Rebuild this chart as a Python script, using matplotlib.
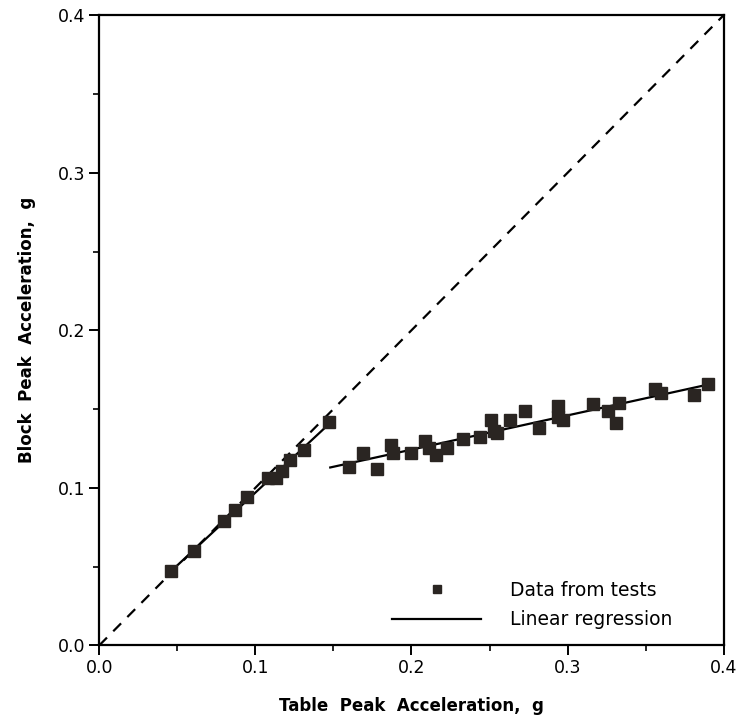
import numpy as np
import matplotlib
matplotlib.use("Agg")
import matplotlib.pyplot as plt
from matplotlib.ticker import MultipleLocator

# test data (g)
table_low = [0.046, 0.061, 0.080, 0.087, 0.095, 0.108, 0.113, 0.117, 0.122, 0.131, 0.147]
block_low = [0.047, 0.060, 0.079, 0.086, 0.094, 0.106, 0.106, 0.111, 0.118, 0.124, 0.142]

table_high = [0.160, 0.169, 0.178, 0.187, 0.188, 0.200, 0.209, 0.211, 0.216, 0.223,
              0.233, 0.244, 0.251, 0.253, 0.255, 0.263, 0.273, 0.282, 0.294, 0.294,
              0.297, 0.316, 0.326, 0.333, 0.331, 0.356, 0.360, 0.381, 0.390]
block_high = [0.113, 0.122, 0.112, 0.127, 0.122, 0.122, 0.130, 0.125, 0.121, 0.125,
              0.131, 0.132, 0.143, 0.136, 0.135, 0.143, 0.149, 0.138, 0.152, 0.145,
              0.143, 0.153, 0.149, 0.154, 0.141, 0.163, 0.160, 0.159, 0.166]

low_range = [0.045, 0.149]
high_range = [0.148, 0.390]

fig = plt.figure(figsize=(7.4, 7.22), dpi=100)
ax = fig.add_axes([0.134, 0.106, 0.844, 0.873])

# 1:1 line
ax.plot([0, 0.4], [0, 0.4], color="black", linestyle=(0, (5, 4)), linewidth=1.6)

# regression lines for both groups
for tx, by, rng in [(table_low, block_low, low_range), (table_high, block_high, high_range)]:
    coef = np.polyfit(tx, by, 1)
    xx = np.array(rng)
    ax.plot(xx, np.polyval(coef, xx), color="black", linewidth=1.6,
            label="Linear regression" if rng is high_range else None)

ax.plot(table_low + table_high, block_low + block_high, linestyle="none",
        marker="s", markersize=8.5, color="#2a2522", label="Data from tests")

ax.set_xlim(0, 0.4)
ax.set_ylim(0, 0.4)
ax.xaxis.set_major_locator(MultipleLocator(0.1))
ax.xaxis.set_minor_locator(MultipleLocator(0.05))
ax.yaxis.set_major_locator(MultipleLocator(0.1))
ax.yaxis.set_minor_locator(MultipleLocator(0.05))
ax.xaxis.set_major_formatter(matplotlib.ticker.FormatStrFormatter("%.1f"))
ax.yaxis.set_major_formatter(matplotlib.ticker.FormatStrFormatter("%.1f"))
ax.tick_params(which="major", direction="out", length=7, width=1.4, labelsize=12.5, pad=3)
ax.tick_params(which="minor", direction="out", length=4, width=1.2)
for sp in ax.spines.values():
    sp.set_linewidth(1.6)

ax.set_xlabel("Table  Peak  Acceleration,  g", fontsize=12, fontweight="bold", labelpad=14)
ax.set_ylabel("Block  Peak  Acceleration,  g", fontsize=12, fontweight="bold", labelpad=16)

handles, labels = ax.get_legend_handles_labels()
order = [labels.index("Data from tests"), labels.index("Linear regression")]
ax.legend([handles[i] for i in order], [labels[i] for i in order],
          loc="lower right", bbox_to_anchor=(0.945, -0.001), frameon=False,
          fontsize=13.5, handlelength=4.75, handletextpad=1.55, markerscale=0.65,
          labelspacing=0.55)

fig.savefig("out.png", dpi=100)
